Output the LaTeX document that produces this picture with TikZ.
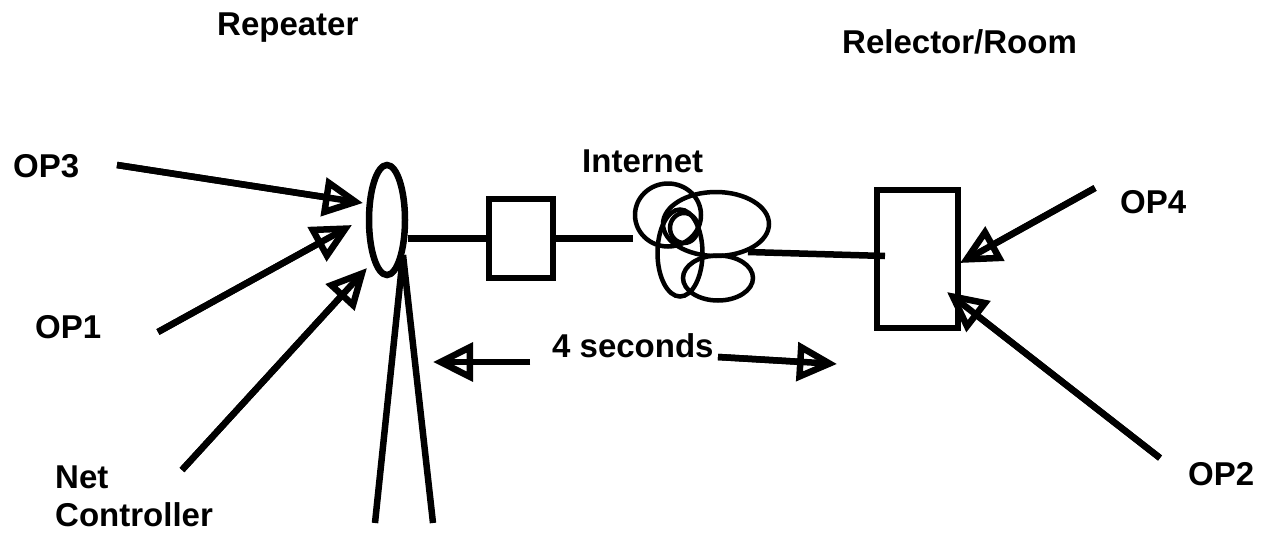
\documentclass[tikz,border=0pt]{standalone}
\usepackage{fontspec}
\setmainfont{Liberation Sans}
\usetikzlibrary{arrows.meta,shapes.geometric}
\begin{document}
\begin{tikzpicture}[x=1pt,y=-1pt,
  wire/.style={line width=6.5pt},
  loop/.style={ellipse,draw,line width=4.5pt,inner sep=0pt},
  box/.style={rectangle,draw,line width=6pt,inner sep=0pt},
  lbl/.style={font=\fontsize{33}{38}\selectfont\bfseries,inner sep=0pt,anchor=base west},
  pointer/.style={wire,-{Triangle[open,length=40pt 0,width=38pt 0,line width=0pt 1]},
    postaction={draw,-,shorten >=14pt}}
]
\useasboundingbox (0,0) rectangle (1266,533);

% titles and labels
\node[lbl] (rep)  at (217,35)  {Repeater};
\node[lbl] (room) at (842,53)  {Relector/Room};
\node[lbl] (inet) at (582,172) {Internet};
\node[lbl] (op3)  at (13,177)  {OP3};
\node[lbl] (op1)  at (35,338)  {OP1};
\node[lbl,anchor=north west,align=left] (netc) at (55,466) {Net\\Controller};
\node[lbl] (secs) at (552,357) {4 seconds};
\node[lbl] (op4)  at (1120,213) {OP4};
\node[lbl] (op2)  at (1188,485) {OP2};

% repeater antenna and tower
\node[ellipse,draw,line width=6.5pt,inner sep=0pt,minimum width=36pt,minimum height=110pt] (ant) at (387,220) {};
\coordinate (towertop) at (403,255);
\coordinate (legL) at (375,523);
\coordinate (legR) at (433,523);
\draw[wire] (towertop) -- (legL);
\draw[wire] (towertop) -- (legR);

% link box
\node[box,minimum width=64pt,minimum height=79pt] (box1) at (521,238.5) {};

% internet cloud
\node[loop,minimum width=66pt,minimum height=63pt]  (cA) at (668,215) {};
\node[loop,minimum width=106pt,minimum height=64pt] (cB) at (716,224) {};
\node[loop,minimum width=45pt,minimum height=87pt]  (cC) at (680,253) {};
\node[loop,minimum width=70pt,minimum height=45pt]  (cD) at (718,278) {};
\node[loop,minimum width=28pt,minimum height=30pt]  (cE) at (684,228) {};

% reflector room
\node[box,minimum width=81pt,minimum height=138pt] (box2) at (917.5,259) {};

% links
\draw[wire] (ant.east |- box1.west) -- (box1.west);
\draw[wire] (box1.east) -- (cA.west |- box1.east);
\coordinate (cloudout) at (748,252);
\coordinate (roomin) at (885,256);
\draw[wire] (cloudout) -- (roomin);

% stations talking in
\coordinate (s3) at (117,165);  \coordinate (t3) at (363,203);
\coordinate (s1) at (158,332);  \coordinate (t1) at (352,225);
\coordinate (sn) at (182,470);  \coordinate (tn) at (367,268);
\coordinate (s4) at (1095,188); \coordinate (t4) at (960,263);
\coordinate (s2) at (1160,458); \coordinate (t2) at (947,292);
\draw[pointer] (s3) -- (t3);
\draw[pointer] (s1) -- (t1);
\draw[pointer] (sn) -- (tn);
\draw[pointer] (s4) -- (t4);
\draw[pointer] (s2) -- (t2);

% delay span
\coordinate (dl) at (530,362); \coordinate (dlt) at (433,362);
\coordinate (dr) at (718,357); \coordinate (drt) at (837,364);
\draw[pointer] (dl) -- (dlt);
\draw[pointer] (dr) -- (drt);
\end{tikzpicture}
\end{document}
